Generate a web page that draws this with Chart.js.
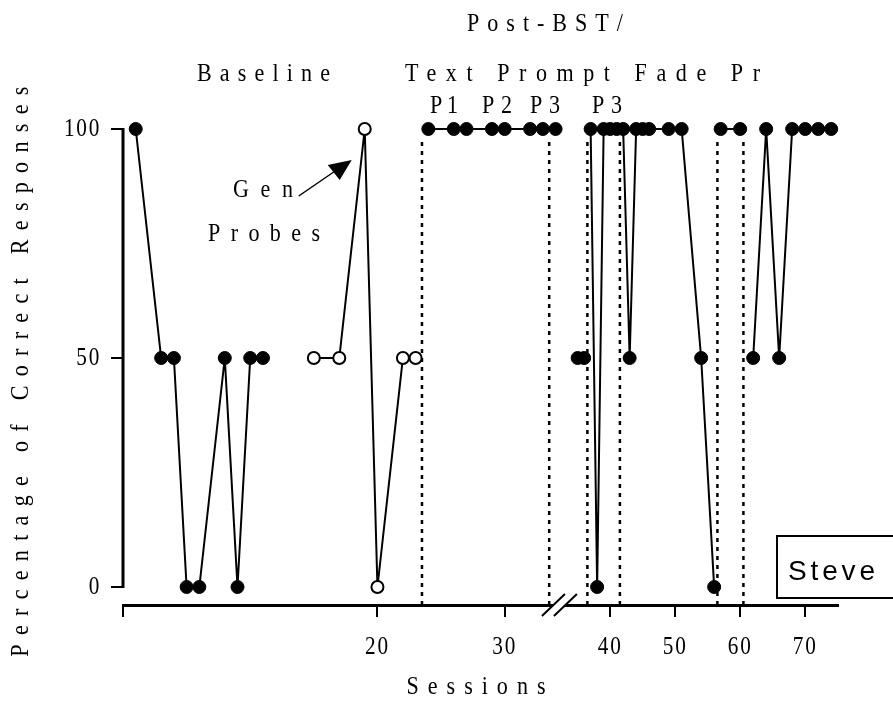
<!DOCTYPE html>
<html>
<head>
<meta charset="utf-8">
<script src="https://cdn.jsdelivr.net/npm/chart.js@4.4.0/dist/chart.umd.min.js"></script>
<style>
html,body{margin:0;padding:0;background:#fff;}
#wrap{width:893px;height:713px;position:relative;}
</style>
</head>
<body>
<div id="wrap"><canvas id="c" width="893" height="713"></canvas></div>
<script>
// ---------- data (session number, percentage correct) ----------
const baselineSessions = [1, 3, 4, 5, 6, 8, 9, 10, 11];
const baselineValues   = [100, 50, 50, 0, 0, 50, 0, 50, 50];

const genProbeSessions = [15, 17, 19, 20, 22, 23];
const genProbeValues   = [50, 50, 100, 0, 50, 50];

const promptSessions = [24, 26, 27, 29, 30, 32, 33, 34];
const promptValues   = [100, 100, 100, 100, 100, 100, 100, 100];

const phaseDSessions = [35, 36];
const phaseDValues   = [50, 50];

const phaseESessions = [37, 38, 39, 40, 41, 42, 43, 44, 45, 46, 49, 51, 54, 56];
const phaseEValues   = [100, 0, 100, 100, 100, 100, 50, 100, 100, 100, 100, 100, 50, 0];

const phaseFSessions = [57, 60];
const phaseFValues   = [100, 100];

const phaseGSessions = [62, 64, 66, 68, 70, 72, 74];
const phaseGValues   = [50, 100, 50, 100, 100, 100, 100];

const phaseChangeSessions = [23.5, 33.5, 36.5, 41.5, 56.5, 60.5];

const xTickSessions = [0, 20, 30, 40, 50, 60, 70];
const xTickLabels   = ['', '20', '30', '40', '50', '60', '70'];
const yTickValues   = [0, 50, 100];

const phaseLabels = ['P1', 'P2', 'P3', 'P3'];

// ---------- broken-axis mapping (sessions -> axis units) ----------
const BREAK_SESSION = 34.5;      // axis is compressed after this session
const RIGHT_REF_SESSION = 40;
const RIGHT_REF_UNIT = 38.29;
const RIGHT_COMPRESSION = 0.511;
function axisUnit(s) {
  return s <= BREAK_SESSION ? s : RIGHT_REF_UNIT + (s - RIGHT_REF_SESSION) * RIGHT_COMPRESSION;
}
function seg(sessions, values) {
  return sessions.map((s, i) => ({ x: axisUnit(s), y: values[i] }));
}

const SERIF = '"Liberation Serif", "Times New Roman", serif';
const CONDENSE = 0.85;   // the serif lettering of the figure is horizontally condensed

// condensed rendering for serif text
const canvas = document.getElementById('c');
const ctx2d = canvas.getContext('2d');
const nativeFill = ctx2d.fillText.bind(ctx2d);
ctx2d.fillText = function (text, x, y, maxWidth) {
  if (this.font.indexOf('Liberation Serif') >= 0) {
    this.save();
    this.translate(x, y);
    this.scale(CONDENSE, 1);
    if (maxWidth === undefined || maxWidth === null) nativeFill(text, 0, 0);
    else nativeFill(text, 0, 0, maxWidth / CONDENSE);
    this.restore();
  } else {
    if (maxWidth === undefined || maxWidth === null) nativeFill(text, x, y);
    else nativeFill(text, x, y, maxWidth);
  }
};

function filledSet(label, data) {
  return {
    label, data,
    borderColor: '#000', borderWidth: 2,
    pointRadius: 6.5, pointBorderWidth: 1,
    pointBackgroundColor: '#000', pointBorderColor: '#000',
    tension: 0, clip: false, fill: false
  };
}
function openSet(label, data) {
  return {
    label, data,
    borderColor: '#000', borderWidth: 2,
    pointRadius: 6, pointBorderWidth: 2,
    pointBackgroundColor: '#fff', pointBorderColor: '#000',
    tension: 0, clip: false, fill: false
  };
}

function fitSpacing(ctx, str, width, condensed) {
  ctx.letterSpacing = '0px';
  const nat = ctx.measureText(str).width;
  const k = condensed ? CONDENSE : 1;
  return str.length > 1 ? (width / k - nat) / (str.length - 1) : 0;
}

function spacedText(ctx, str, x, y, width, font, condensed) {
  ctx.save();
  ctx.font = font;
  const sp = fitSpacing(ctx, str, width, condensed);
  ctx.letterSpacing = sp + 'px';
  ctx.textAlign = 'left';
  ctx.textBaseline = 'alphabetic';
  ctx.fillStyle = '#000';
  ctx.fillText(str, x, y);
  ctx.restore();
}

const decorPlugin = {
  id: 'decor',
  beforeDraw(chart) {
    const ctx = chart.ctx;
    ctx.letterSpacing = '2px';
    // wider letter spacing for axis titles
    ['x', 'y'].forEach(id => {
      const sc = chart.scales[id];
      if (sc && !sc._patched) {
        const orig = sc.drawTitle;
        const target = id === 'x' ? 139 : 570;
        sc.drawTitle = function () {
          const c = this.ctx;
          const t = this.options.title;
          c.save();
          c.font = Chart.helpers.toFont(t.font).string;
          const sp = fitSpacing(c, t.text, target, true);
          c.letterSpacing = sp + 'px';
          orig.call(this);
          c.restore();
        };
        sc._patched = true;
      }
    });
  },
  beforeDatasetsDraw(chart) {
    const ctx = chart.ctx;
    const xs = chart.scales.x, ys = chart.scales.y;
    const area = chart.chartArea;
    // y axis line (0 to 100)
    ctx.save();
    ctx.strokeStyle = '#000';
    ctx.lineWidth = 3;
    ctx.beginPath();
    ctx.moveTo(area.left, ys.getPixelForValue(100) - 1);
    ctx.lineTo(area.left, ys.getPixelForValue(0) + 1);
    ctx.stroke();
    // phase change lines
    ctx.lineWidth = 2.5;
    ctx.setLineDash([4, 5]);
    phaseChangeSessions.forEach(s => {
      const px = xs.getPixelForValue(axisUnit(s));
      ctx.beginPath();
      ctx.moveTo(px, ys.getPixelForValue(100) + 13);
      ctx.lineTo(px, area.bottom);
      ctx.stroke();
    });
    ctx.restore();
  },
  afterDraw(chart) {
    const ctx = chart.ctx;
    const xs = chart.scales.x, ys = chart.scales.y;
    const area = chart.chartArea;
    // axis break marks
    const bx = (xs.getPixelForValue(BREAK_SESSION) + xs.getPixelForValue(axisUnit(BREAK_SESSION))) / 2 - 3;
    const by = area.bottom;
    ctx.save();
    ctx.fillStyle = '#fff';
    ctx.beginPath();
    ctx.moveTo(bx - 17, by + 11); ctx.lineTo(bx + 6, by - 11);
    ctx.lineTo(bx + 18, by - 11); ctx.lineTo(bx - 5, by + 11);
    ctx.closePath(); ctx.fill();
    ctx.strokeStyle = '#000';
    ctx.lineWidth = 2;
    ctx.beginPath();
    ctx.moveTo(bx - 17, by + 11); ctx.lineTo(bx + 6, by - 11);
    ctx.moveTo(bx - 5, by + 11); ctx.lineTo(bx + 18, by - 11);
    ctx.stroke();
    ctx.restore();

    // phase titles
    const fHead = '26px ' + SERIF;
    spacedText(ctx, 'Post-BST/', 467, 31, 156, fHead, true);
    spacedText(ctx, 'Baseline', 197, 81, 133, fHead, true);
    spacedText(ctx, 'Text Prompt Fade Pr', 405, 81, 355, fHead, true);
    const fP = '26px ' + SERIF;
    const pLeft = [430, 482, 530, 592];
    const pW = [28, 30, 30, 30];
    phaseLabels.forEach((t, i) => spacedText(ctx, t, pLeft[i], 113, pW[i], fP, true));

    // Gen probes annotation with arrow
    spacedText(ctx, 'Gen', 233, 197, 60, fHead, true);
    spacedText(ctx, 'Probes', 208, 241, 112, fHead, true);
    const tx = xs.getPixelForValue(axisUnit(19)) - 13;
    const ty = ys.getPixelForValue(100) + 31;
    ctx.save();
    ctx.strokeStyle = '#000'; ctx.fillStyle = '#000'; ctx.lineWidth = 1.5;
    ctx.beginPath();
    ctx.moveTo(tx - 53, ty + 36);
    ctx.lineTo(tx - 18, ty + 12);
    ctx.stroke();
    ctx.beginPath();
    ctx.moveTo(tx, ty);
    ctx.lineTo(tx - 24, ty + 5);
    ctx.lineTo(tx - 12, ty + 20);
    ctx.closePath(); ctx.fill();
    ctx.restore();

    // subject label box
    ctx.save();
    ctx.strokeStyle = '#000'; ctx.lineWidth = 2;
    ctx.strokeRect(777, 536, 130, 62);
    ctx.restore();
    spacedText(ctx, 'Steve', 788, 580, 87, '28px "Liberation Sans", Arial, sans-serif', false);
  }
};

const chart = new Chart(ctx2d, {
  type: 'line',
  data: {
    datasets: [
      filledSet('Baseline', seg(baselineSessions, baselineValues)),
      openSet('Gen Probes', seg(genProbeSessions, genProbeValues)),
      filledSet('Text Prompt P1-P3', seg(promptSessions, promptValues)),
      filledSet('Phase D', seg(phaseDSessions, phaseDValues)),
      filledSet('Phase E', seg(phaseESessions, phaseEValues)),
      filledSet('Phase F', seg(phaseFSessions, phaseFValues)),
      filledSet('Phase G', seg(phaseGSessions, phaseGValues))
    ]
  },
  options: {
    responsive: false,
    animation: false,
    devicePixelRatio: 1,
    layout: { padding: { top: 129, right: 55, bottom: 0, left: 0 } },
    plugins: { legend: { display: false }, tooltip: { enabled: false } },
    scales: {
      x: {
        type: 'linear', position: 'bottom', min: 0, max: 56.2,
        afterFit(s) { s.height = 108; },
        afterBuildTicks(s) { s.ticks = xTickSessions.map(v => ({ value: axisUnit(v) })); },
        ticks: {
          callback: (v, i) => xTickLabels[i],
          font: { family: SERIF, size: 25 }, color: '#000',
          padding: 15, maxRotation: 0, autoSkip: false
        },
        grid: { drawOnChartArea: false, drawTicks: true, tickLength: 12, lineWidth: 2, color: '#000' },
        border: { display: true, width: 3, color: '#000' },
        title: { display: true, text: 'Sessions', font: { family: SERIF, size: 26 }, color: '#000', padding: { top: 0, bottom: 10 } }
      },
      y: {
        type: 'linear', min: -3.93, max: 100,
        afterFit(s) { s.width = 123; },
        afterBuildTicks(s) { s.ticks = yTickValues.map(v => ({ value: v })); },
        ticks: { font: { family: SERIF, size: 25 }, color: '#000', padding: 10 },
        grid: { drawOnChartArea: false, drawTicks: true, tickLength: 12, lineWidth: 2, color: '#000' },
        border: { display: false },
        title: { display: true, text: 'Percentage of Correct Responses', font: { family: SERIF, size: 26 }, color: '#000', padding: { top: 6, bottom: 0 } }
      }
    }
  },
  plugins: [decorPlugin]
});
</script>
</body>
</html>
